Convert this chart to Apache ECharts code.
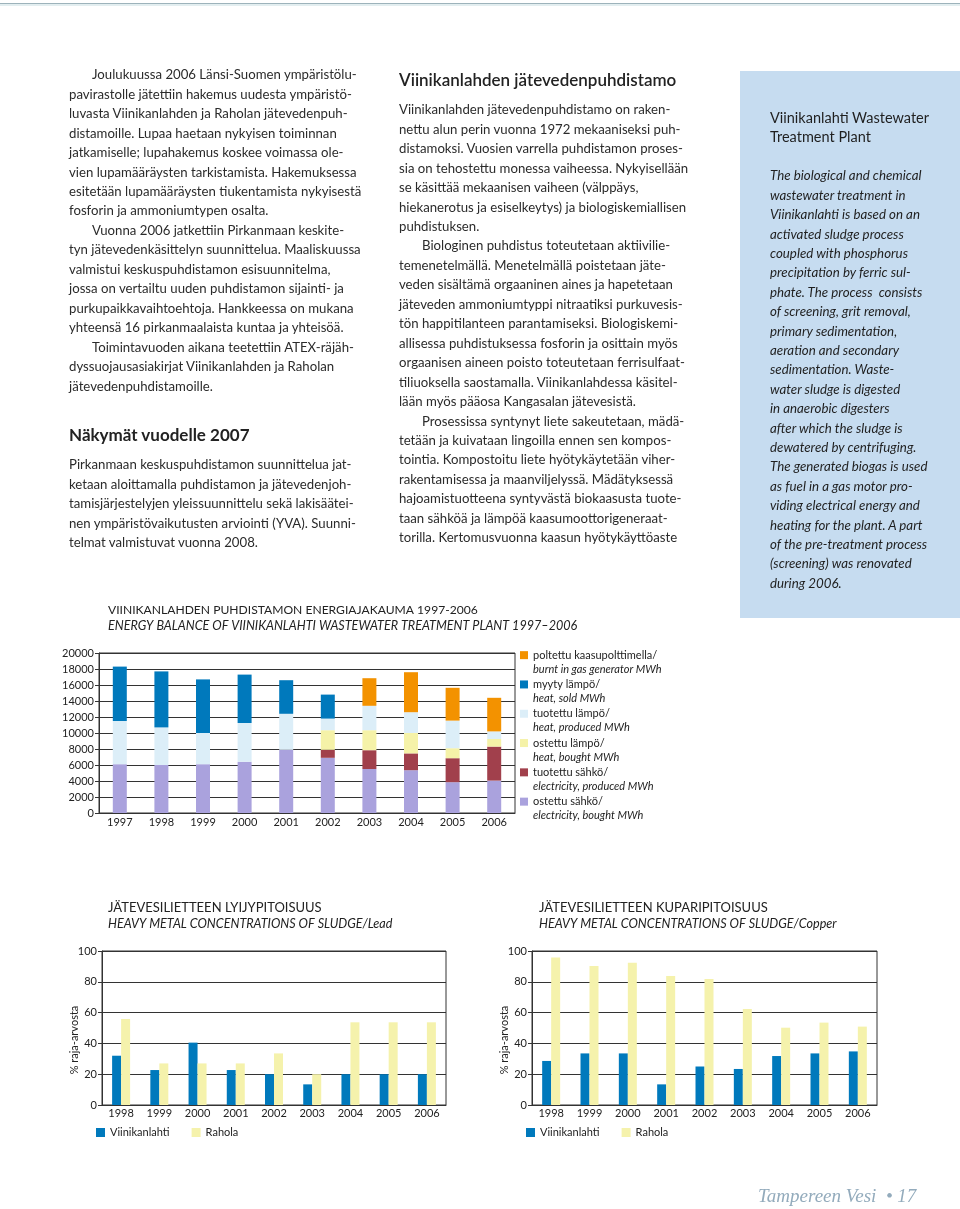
<!DOCTYPE html>
<html><head><meta charset="utf-8">
<script src="https://cdn.jsdelivr.net/npm/echarts@6/dist/echarts.min.js"></script>
<style>
html,body{margin:0;padding:0;background:#fff;}
#page{position:relative;width:960px;height:1209px;overflow:hidden;font-family:Lato,sans-serif;color:#2b2b2b;}
#chart{position:absolute;left:0;top:0;width:960px;height:1209px;z-index:1;}
.txt{position:absolute;z-index:2;white-space:nowrap;font-size:13.2px;line-height:19.45px;}
.txt div.i{padding-left:23px;}
.h{position:absolute;z-index:2;white-space:nowrap;font-size:17px;font-weight:bold;color:#222;line-height:20px;}
#box{position:absolute;left:740px;top:71px;width:220px;height:547px;background:#C6DCF0;z-index:0;}
#topline{position:absolute;left:0;top:3px;width:960px;height:1px;background:#9DB3BB;}
#topline2{position:absolute;left:0;top:4px;width:960px;height:2px;background:#E3EEF0;}
#footer{position:absolute;left:758px;top:1185px;font-family:"Liberation Serif",serif;font-style:italic;font-size:19px;color:#93ABBC;z-index:2;white-space:nowrap;}
</style>
</head><body>
<div id="page">
<div id="topline"></div><div id="topline2"></div>
<div id="box"></div>
<div id="chart"></div>

<div class="txt" style="left:69px;top:65.3px;">
<div class="i">Joulukuussa 2006 Länsi-Suomen ympäristölu-</div>
<div>pavirastolle jätettiin hakemus uudesta ympäristö-</div>
<div>luvasta Viinikanlahden ja Raholan jätevedenpuh-</div>
<div>distamoille. Lupaa haetaan nykyisen toiminnan</div>
<div>jatkamiselle; lupahakemus koskee voimassa ole-</div>
<div>vien lupamääräysten tarkistamista. Hakemuksessa</div>
<div>esitetään lupamääräysten tiukentamista nykyisestä</div>
<div>fosforin ja ammoniumtypen osalta.</div>
<div class="i">Vuonna 2006 jatkettiin Pirkanmaan keskite-</div>
<div>tyn jätevedenkäsittelyn suunnittelua. Maaliskuussa</div>
<div>valmistui keskuspuhdistamon esisuunnitelma,</div>
<div>jossa on vertailtu uuden puhdistamon sijainti- ja</div>
<div>purkupaikkavaihtoehtoja. Hankkeessa on mukana</div>
<div>yhteensä 16 pirkanmaalaista kuntaa ja yhteisöä.</div>
<div class="i">Toimintavuoden aikana teetettiin ATEX-räjäh-</div>
<div>dyssuojausasiakirjat Viinikanlahden ja Raholan</div>
<div>jätevedenpuhdistamoille.</div>
</div>

<div class="h" style="left:69px;top:425px;">Näkymät vuodelle 2007</div>
<div class="txt" style="left:69px;top:455.3px;">
<div>Pirkanmaan keskuspuhdistamon suunnittelua jat-</div>
<div>ketaan aloittamalla puhdistamon ja jätevedenjoh-</div>
<div>tamisjärjestelyjen yleissuunnittelu sekä lakisäätei-</div>
<div>nen ympäristövaikutusten arviointi (YVA). Suunni-</div>
<div>telmat valmistuvat vuonna 2008.</div>
</div>

<div class="h" style="left:399px;top:70px;font-weight:600;">Viinikanlahden jätevedenpuhdistamo</div>
<div class="txt" style="left:399px;top:100.3px;">
<div>Viinikanlahden jätevedenpuhdistamo on raken-</div>
<div>nettu alun perin vuonna 1972 mekaaniseksi puh-</div>
<div>distamoksi. Vuosien varrella puhdistamon proses-</div>
<div>sia on tehostettu monessa vaiheessa. Nykyisellään</div>
<div>se käsittää mekaanisen vaiheen (välppäys,</div>
<div>hiekanerotus ja esiselkeytys) ja biologiskemiallisen</div>
<div>puhdistuksen.</div>
<div class="i">Biologinen puhdistus toteutetaan aktiivilie-</div>
<div>temenetelmällä. Menetelmällä poistetaan jäte-</div>
<div>veden sisältämä orgaaninen aines ja hapetetaan</div>
<div>jäteveden ammoniumtyppi nitraatiksi purkuvesis-</div>
<div>tön happitilanteen parantamiseksi. Biologiskemi-</div>
<div>allisessa puhdistuksessa fosforin ja osittain myös</div>
<div>orgaanisen aineen poisto toteutetaan ferrisulfaat-</div>
<div>tiliuoksella saostamalla. Viinikanlahdessa käsitel-</div>
<div>lään myös pääosa Kangasalan jätevesistä.</div>
<div class="i">Prosessissa syntynyt liete sakeutetaan, mädä-</div>
<div>tetään ja kuivataan lingoilla ennen sen kompos-</div>
<div>tointia. Kompostoitu liete hyötykäytetään viher-</div>
<div>rakentamisessa ja maanviljelyssä. Mädätyksessä</div>
<div>hajoamistuotteena syntyvästä biokaasusta tuote-</div>
<div>taan sähköä ja lämpöä kaasumoottorigeneraat-</div>
<div>torilla. Kertomusvuonna kaasun hyötykäyttöaste</div>
</div>

<div class="txt" style="left:770px;top:108px;font-size:14.5px;line-height:19px;color:#1f1f1f;">
<div>Viinikanlahti Wastewater</div>
<div>Treatment Plant</div>
</div>
<div class="txt" style="left:770px;top:166.3px;font-style:italic;line-height:19.4px;color:#1f1f1f;font-size:13.3px;">
<div>The biological and chemical</div>
<div>wastewater treatment in</div>
<div>Viinikanlahti is based on an</div>
<div>activated sludge process</div>
<div>coupled with phosphorus</div>
<div>precipitation by ferric sul-</div>
<div>phate. The process&nbsp; consists</div>
<div>of screening, grit removal,</div>
<div>primary sedimentation,</div>
<div>aeration and secondary</div>
<div>sedimentation. Waste-</div>
<div>water sludge is digested</div>
<div>in anaerobic digesters</div>
<div>after which the sludge is</div>
<div>dewatered by centrifuging.</div>
<div>The generated biogas is used</div>
<div>as fuel in a gas motor pro-</div>
<div>viding electrical energy and</div>
<div>heating for the plant. A part</div>
<div>of the pre-treatment process</div>
<div>(screening) was renovated</div>
<div>during 2006.</div>
</div>

<div id="footer">Tampereen Vesi &nbsp;•&nbsp;17</div>
</div>

<script>
// ---- Energy balance data (MWh) ----
const energyYears = ['1997','1998','1999','2000','2001','2002','2003','2004','2005','2006'];
const elecBought    = [6100, 6000, 6100, 6400, 7900, 6900, 5500, 5350, 3850, 4050];
const elecProduced  = [0, 0, 0, 0, 0, 1000, 2350, 2100, 3000, 4250];
const heatBought    = [0, 0, 0, 0, 0, 2450, 2500, 2550, 1250, 950];
const heatProduced  = [5400, 4700, 3900, 4850, 4500, 1450, 3050, 2600, 3450, 950];
const heatSold      = [6800, 7000, 6700, 6050, 4200, 3000, 0, 0, 0, 0];
const gasBurnt      = [0, 0, 0, 0, 0, 0, 3450, 5000, 4100, 4200];

const energyNamesFi = ['ostettu sähkö/', 'tuotettu sähkö/', 'ostettu lämpö/', 'tuotettu lämpö/', 'myyty lämpö/', 'poltettu kaasupolttimella/'];
const energyNamesEn = ['electricity, bought MWh', 'electricity, produced MWh', 'heat, bought MWh', 'heat, produced MWh', 'heat, sold MWh', 'burnt in gas generator MWh'];
const energyColors  = ['#AAA2DD', '#A1404C', '#F5F2A8', '#DCEEF8', '#0079BC', '#F39200'];

// ---- Sludge heavy metal data (% of limit value) ----
const sludgeYears = ['1998','1999','2000','2001','2002','2003','2004','2005','2006'];
const leadViinikanlahti   = [32, 22.7, 40.5, 22.7, 20, 13.4, 20, 20, 20];
const leadRahola          = [55.8, 27, 27, 27, 33.5, 20, 53.7, 53.7, 53.7];
const copperViinikanlahti = [28.6, 33.5, 33.5, 13.4, 25, 23.4, 31.8, 33.5, 34.8];
const copperRahola        = [95.7, 90.3, 92.4, 83.8, 81.8, 62.3, 50.2, 53.5, 50.9];
const plantNames = ['Viinikanlahti', 'Rahola'];
const plantColors = ['#0079BC', '#F5F2AC'];

const FONT = 'Lato, sans-serif';
const INK = '#222';
const LINE = '#333';

const chart = echarts.init(document.getElementById('chart'), null, {renderer: 'canvas'});

const energyData = [elecBought, elecProduced, heatBought, heatProduced, heatSold, gasBurnt];
const enMap = {};
energyNamesFi.forEach((n, i) => enMap[n] = energyNamesEn[i]);

function catAxis(gridIndex, data, margin) {
  return {
    type: 'category', gridIndex, data,
    axisLine: {show: true, lineStyle: {color: LINE, width: 1}},
    axisTick: {show: false},
    axisLabel: {color: INK, fontSize: 11, fontFamily: FONT, margin}
  };
}
function valAxis(gridIndex, max, interval, extra) {
  return Object.assign({
    type: 'value', gridIndex, min: 0, max, interval,
    axisLine: {show: true, lineStyle: {color: LINE, width: 1}},
    axisTick: {show: true, length: 4, lineStyle: {color: LINE}},
    axisLabel: {color: INK, fontSize: 11, fontFamily: FONT, margin: 5, formatter: v => String(v)},
    splitLine: {show: true, lineStyle: {color: LINE, width: 1}}
  }, extra || {});
}

const series = [];
energyData.forEach((d, i) => {
  series.push({
    type: 'bar', name: energyNamesFi[i], stack: 'energy',
    xAxisIndex: 0, yAxisIndex: 0, data: d, barWidth: 14,
    itemStyle: {color: energyColors[i]}
  });
});
[[leadViinikanlahti, leadRahola, 1], [copperViinikanlahti, copperRahola, 2]].forEach(([a, b, gi]) => {
  [a, b].forEach((d, k) => {
    series.push({
      type: 'bar', name: plantNames[k], xAxisIndex: gi, yAxisIndex: gi,
      data: d, barWidth: 9, barGap: '0%',
      itemStyle: {color: plantColors[k]}
    });
  });
});

function titleBlock(left, top, text, subtext, size, subSize) {
  return {
    left, top, text, subtext, padding: 0, itemGap: 3,
    textStyle: {fontSize: size, fontWeight: 'normal', color: INK, fontFamily: FONT},
    subtextStyle: {fontSize: subSize, fontStyle: 'italic', color: INK, fontFamily: FONT}
  };
}

function plantLegend(left) {
  return {
    left, top: 1127, padding: 0, itemWidth: 9, itemHeight: 9, itemGap: 22,
    icon: 'rect', data: plantNames, selectedMode: false,
    textStyle: {fontSize: 11, color: INK, fontFamily: FONT}
  };
}

const yNameStyle = {fontSize: 11, color: INK, fontFamily: FONT, padding: [0, 24, 0, 0]};

const option = {
  animation: false,
  backgroundColor: 'transparent',
  title: [
    titleBlock(108, 604, 'VIINIKANLAHDEN PUHDISTAMON ENERGIAJAKAUMA 1997-2006',
      'ENERGY BALANCE OF VIINIKANLAHTI WASTEWATER TREATMENT PLANT 1997–2006', 12.1, 12.6),
    titleBlock(108, 901, 'JÄTEVESILIETTEEN LYIJYPITOISUUS', 'HEAVY METAL CONCENTRATIONS OF SLUDGE/Lead', 13, 12.6),
    titleBlock(539, 901, 'JÄTEVESILIETTEEN KUPARIPITOISUUS', 'HEAVY METAL CONCENTRATIONS OF SLUDGE/Copper', 13, 12.6)
  ],
  legend: [
    {
      left: 520, top: 634, padding: 0, orient: 'vertical',
      itemWidth: 8, itemHeight: 8, itemGap: -13.0, icon: 'rect', selectedMode: false,
      data: energyNamesFi.slice().reverse(),
      formatter: n => '{e| }\n{a|' + n + '}\n{b|' + enMap[n] + '}',
      textStyle: {
        fontFamily: FONT, color: INK, fontSize: 11, lineHeight: 14.1,
        rich: {
          e: {fontSize: 11, lineHeight: 14.1},
          a: {fontSize: 11, lineHeight: 14.1, color: INK, fontFamily: FONT},
          b: {fontSize: 11, lineHeight: 14.1, color: INK, fontFamily: FONT, fontStyle: 'italic'}
        }
      }
    },
    plantLegend(96),
    plantLegend(526)
  ],
  grid: [
    {left: 99, top: 653, width: 416, height: 160, show: true, borderColor: LINE, borderWidth: 1, containLabel: false},
    {left: 102, top: 951, width: 344, height: 154, show: true, borderColor: LINE, borderWidth: 1, containLabel: false},
    {left: 532, top: 951, width: 345, height: 154, show: true, borderColor: LINE, borderWidth: 1, containLabel: false}
  ],
  xAxis: [
    catAxis(0, energyYears, 4),
    catAxis(1, sludgeYears, 3),
    catAxis(2, sludgeYears, 3)
  ],
  yAxis: [
    valAxis(0, 20000, 2000),
    valAxis(1, 100, 20, {name: '% raja-arvosta', nameLocation: 'middle', nameGap: 22, nameMoveOverlap: false, nameTextStyle: yNameStyle}),
    valAxis(2, 100, 20, {name: '% raja-arvosta', nameLocation: 'middle', nameGap: 22, nameMoveOverlap: false, nameTextStyle: yNameStyle})
  ],
  series
};
chart.setOption(option);
</script>
</body></html>
